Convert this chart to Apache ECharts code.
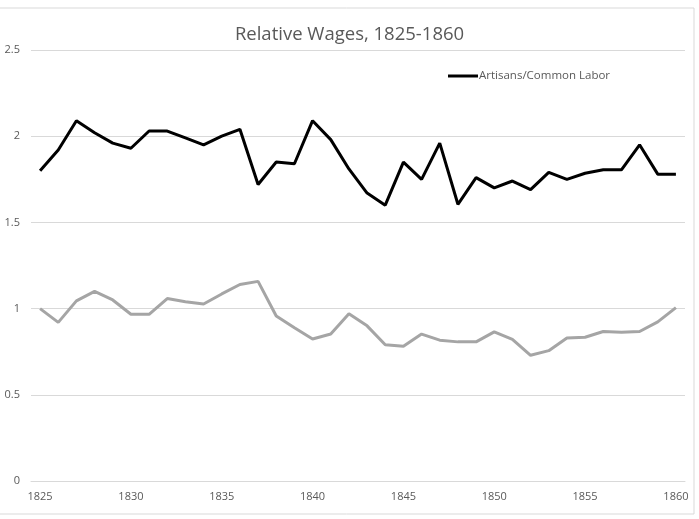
<!DOCTYPE html>
<html>
    <head>
        <meta charset='utf-8'>
        <script src='https://cdn.jsdelivr.net/npm/echarts@6/dist/echarts.min.js'></script>
    </head>
    <body>
        <style>
            html, body, #main {
                width: 100%;
                height: 100%;
                margin: 0;
                background: #fff;
            }
        </style>
        <div id="main"></div>
        <script>
            // years on the x axis
            var years = [];
            for (var y = 1825; y <= 1860; y++) years.push(String(y));

            // ratio artisans / common labor (black line)
            var artisans = [1.80, 1.92, 2.09, 2.02, 1.96, 1.93, 2.03, 2.03, 1.99, 1.95,
                            2.00, 2.04, 1.72, 1.85, 1.84, 2.09, 1.98, 1.81, 1.67, 1.60,
                            1.85, 1.75, 1.96, 1.605, 1.76, 1.70, 1.74, 1.69, 1.79, 1.75,
                            1.785, 1.805, 1.805, 1.95, 1.78, 1.78];

            // second, unlabelled series (grey line)
            var grey = [1.00, 0.92, 1.045, 1.10, 1.05, 0.967, 0.967, 1.058, 1.04, 1.027,
                        1.085, 1.14, 1.158, 0.957, 0.889, 0.824, 0.853, 0.97, 0.90, 0.79,
                        0.782, 0.852, 0.817, 0.807, 0.807, 0.865, 0.822, 0.729, 0.756, 0.83,
                        0.834, 0.867, 0.863, 0.867, 0.923, 1.006];

            var yTicks = [0, 0.5, 1, 1.5, 2, 2.5];

            var chart = echarts.init(document.getElementById('main'));
            var txt = '#595959';

            chart.setOption({
                backgroundColor: '#fff',
                animation: false,
                title: {
                    text: 'Relative Wages, 1825-1860',
                    left: 'center',
                    top: 20,
                    textStyle: {
                        fontFamily: 'Open Sans',
                        fontWeight: 'normal',
                        fontSize: 18.5,
                        color: txt
                    }
                },
                legend: {
                    data: [{ name: 'Artisans/Common Labor', icon: 'rect' }],
                    left: 443,
                    top: 65,
                    itemWidth: 30,
                    itemHeight: 3,
                    itemGap: 0,
                    textStyle: {
                        fontFamily: 'Open Sans',
                        fontSize: 11.5,
                        color: txt,
                        padding: [0, 0, 0, -4]
                    }
                },
                graphic: [{
                    type: 'rect',
                    shape: { x: -1, y: 8, width: 695, height: 506 },
                    style: { fill: 'none', stroke: '#d9d9d9', lineWidth: 1 },
                    silent: true
                }],
                grid: {
                    left: 31,
                    right: 14,
                    top: 50,
                    bottom: 38
                },
                xAxis: {
                    type: 'category',
                    data: years,
                    boundaryGap: true,
                    axisLine: { lineStyle: { color: '#d9d9d9' } },
                    axisTick: {
                        interval: 0,
                        length: 4,
                        lineStyle: { color: '#d9d9d9' }
                    },
                    axisLabel: {
                        interval: 4,
                        margin: 10,
                        fontFamily: 'Open Sans',
                        fontSize: 11,
                        color: txt
                    }
                },
                yAxis: {
                    type: 'value',
                    min: yTicks[0],
                    max: yTicks[yTicks.length - 1],
                    interval: 0.5,
                    axisLine: { show: false },
                    axisTick: { show: false },
                    axisLabel: {
                        margin: 11,
                        fontFamily: 'Open Sans',
                        fontSize: 11,
                        color: txt
                    },
                    splitLine: { lineStyle: { color: '#d9d9d9' } }
                },
                series: [{
                    name: 'Artisans/Common Labor',
                    type: 'line',
                    data: artisans,
                    symbol: 'none',
                    lineStyle: { color: '#000', width: 3 },
                    itemStyle: { color: '#000' }
                }, {
                    name: 'Other',
                    type: 'line',
                    data: grey,
                    symbol: 'none',
                    lineStyle: { color: '#a5a5a5', width: 3 },
                    itemStyle: { color: '#a5a5a5' }
                }]
            });
        </script>
    </body>
</html>
